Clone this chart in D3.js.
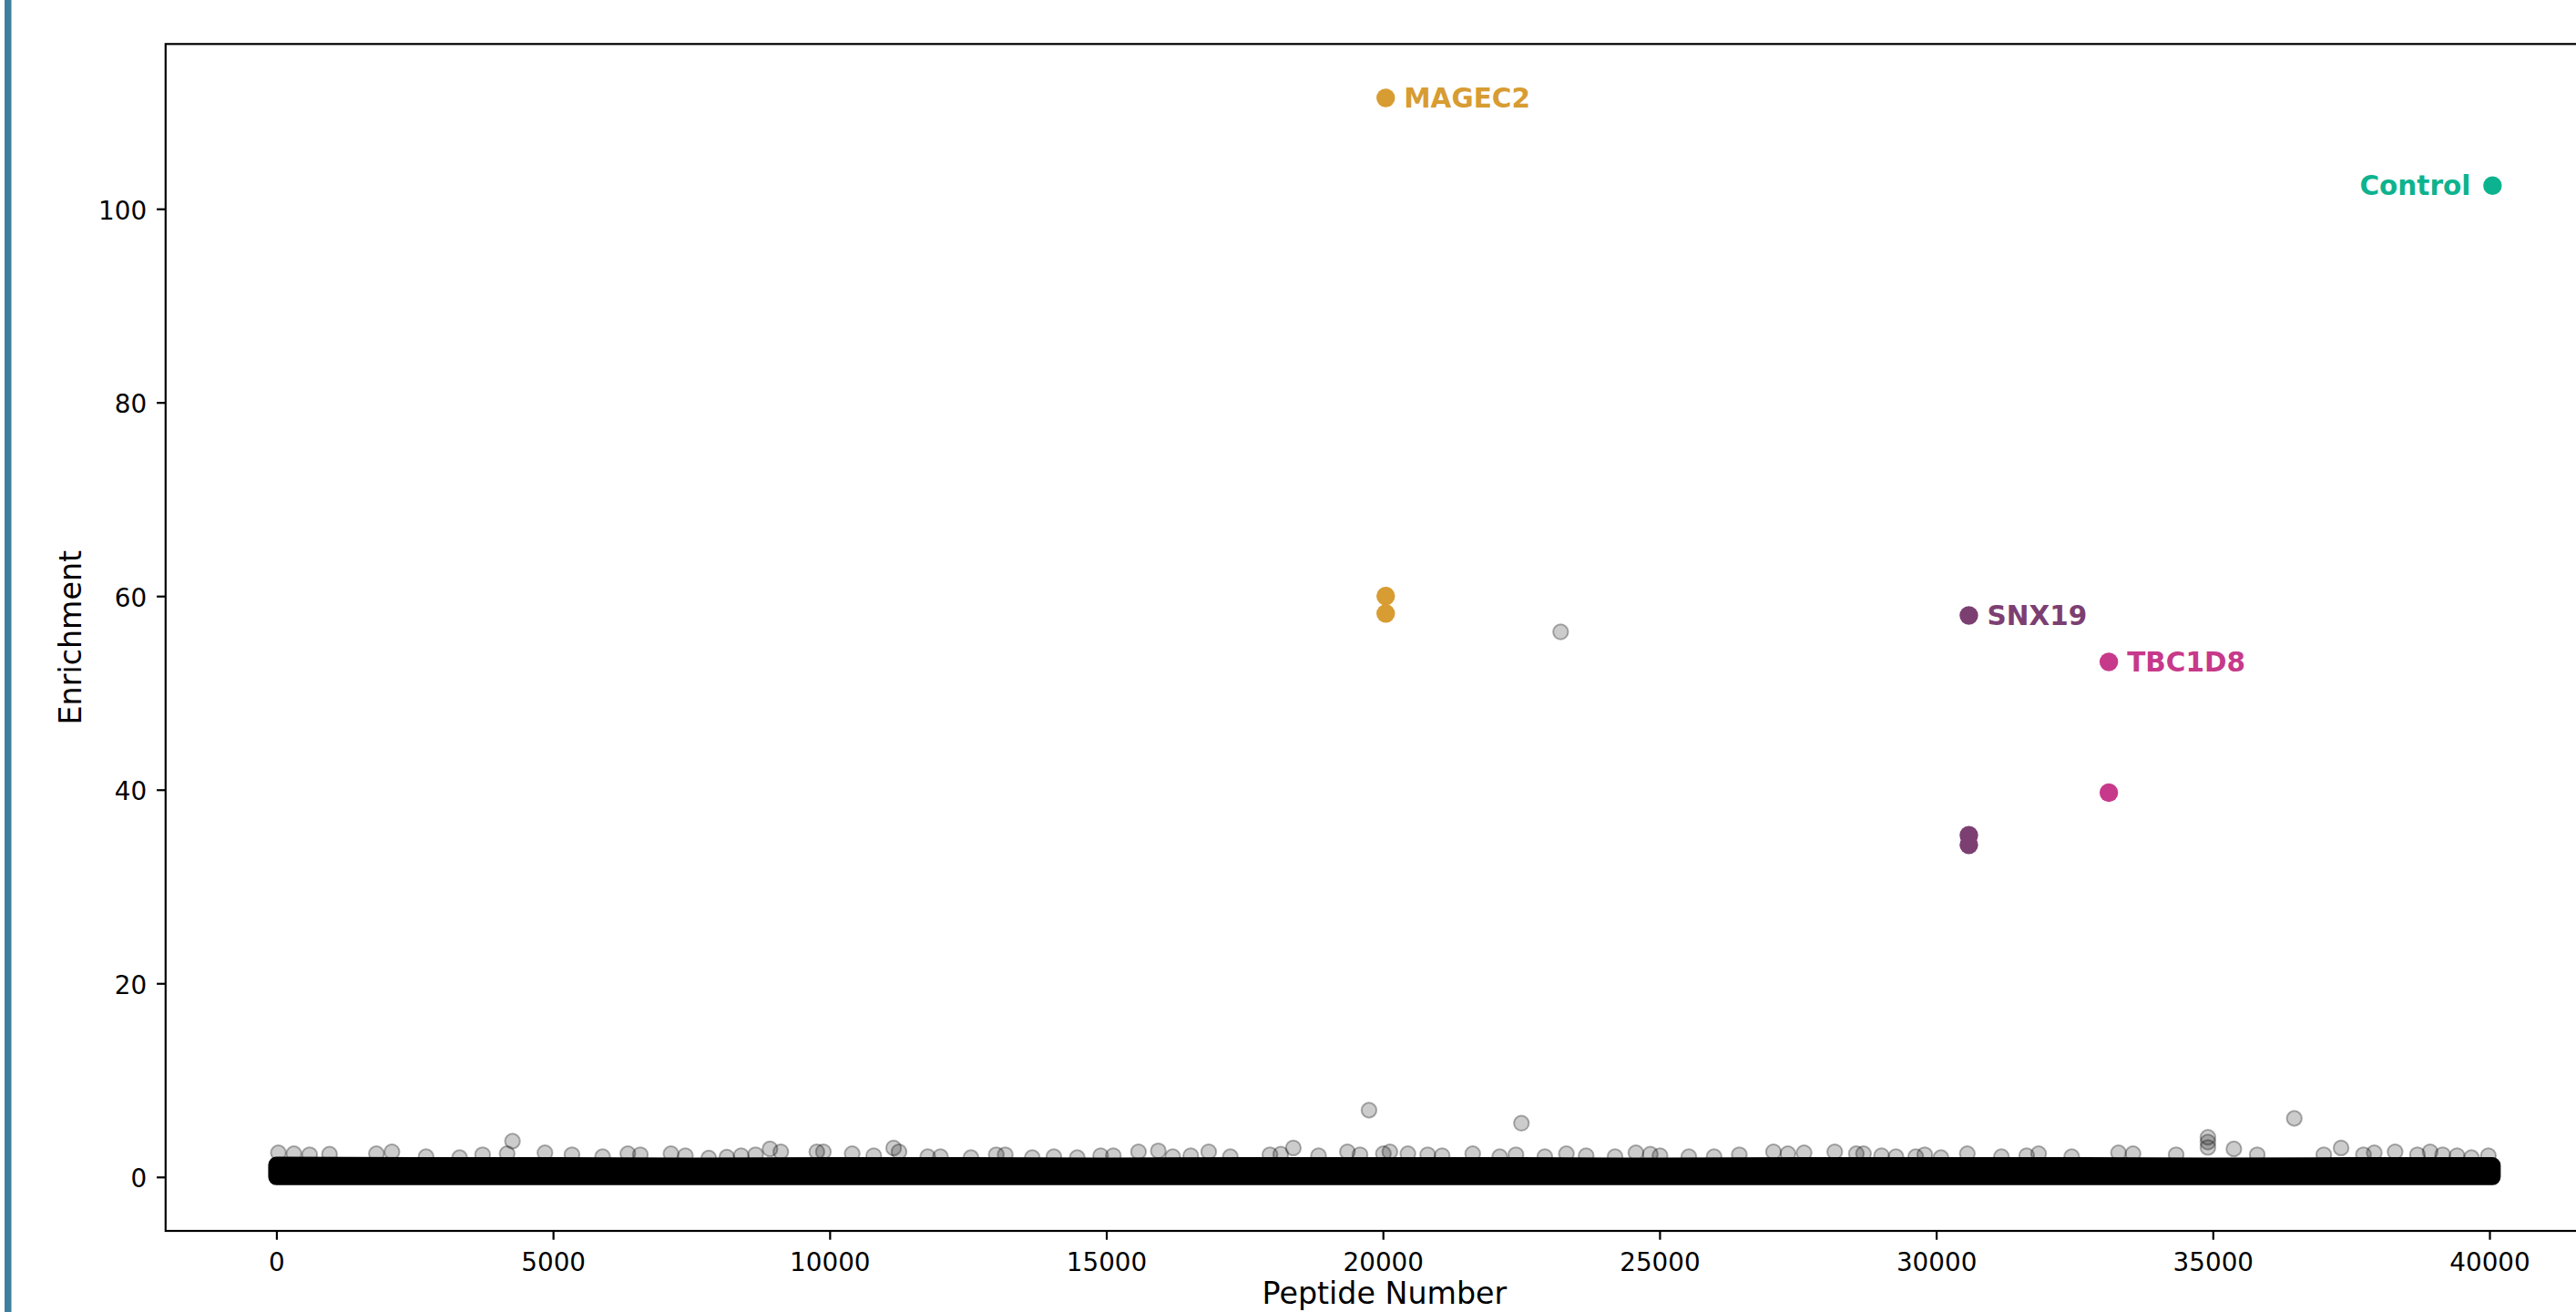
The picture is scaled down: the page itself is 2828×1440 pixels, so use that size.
<!DOCTYPE html>
<html>
<head>
<meta charset="utf-8">
<script src="https://cdn.jsdelivr.net/npm/d3@7"></script>
<style>
  html, body { margin: 0; padding: 0; background: #fff; overflow: hidden; }
  svg { display: block; }
  text { font-family: "DejaVu Sans", sans-serif; }
</style>
</head>
<body>
<div id="chart"></div>
<script>
// dense band of ~40000 peptides: upper edge of the solid black strip (enrichment)
const bandPeptide = [0, 2500, 5000, 7500, 10000, 12500, 15000, 17500, 20000,
    22500, 25000, 27500, 30000, 32500, 35000, 37500, 40055];
const bandTop = [1.25, 1.2, 1.2, 1.15, 1.2, 1.2, 1.15, 1.2, 1.2,
    1.2, 1.15, 1.2, 1.2, 1.2, 1.15, 1.2, 1.2];

// individual background peptides that stand out above the band
const outlierPeptide = [36, 316, 600, 960, 1808, 2088, 2705, 3311, 3727, 4267, 4170, 4854,
    5342, 5896, 6352, 6577, 7132, 7392, 7815, 8141, 8401, 8661, 8921, 9117, 9768,
    9886, 10407, 10797, 11156, 11253, 11773, 12002, 12554, 13011, 13173, 13662, 14052,
    14475, 14898, 15127, 15582, 15940, 16201, 16527, 16851, 17242, 17958, 18153, 18380,
    18836, 19358, 19585, 19748, 20008, 20125, 20451, 20809, 21070, 21623, 22111, 22404,
    22503, 22926, 23212, 23316, 23673, 24195, 24572, 24832, 25008, 25529, 25985, 26441,
    27059, 27320, 27612, 28166, 28556, 28686, 29012, 29272, 29630, 29793, 30086, 30562,
    31179, 31635, 31851, 32449, 33295, 33557, 34337, 34911, 34911, 34911, 35380, 35802,
    36472, 37006, 37318, 37722, 37918, 38294, 38698, 38927, 39154, 39414, 39674, 39980];
const outlierEnrichment = [2.5, 2.4, 2.3, 2.35, 2.4, 2.6, 2.1, 2.0, 2.3, 3.7, 2.4, 2.5,
    2.3, 2.1, 2.4, 2.3, 2.4, 2.2, 1.95, 2.05, 2.2, 2.3, 2.9, 2.6, 2.6,
    2.6, 2.4, 2.2, 3.0, 2.6, 2.1, 2.1, 2.0, 2.3, 2.3, 2.0, 2.1,
    2.0, 2.2, 2.2, 2.6, 2.7, 2.1, 2.2, 2.6, 2.1, 2.3, 2.35, 3.0,
    2.2, 2.6, 2.3, 6.9, 2.4, 2.6, 2.4, 2.3, 2.2, 2.4, 2.1, 2.3,
    5.55, 2.1, 56.3, 2.4, 2.2, 2.1, 2.5, 2.35, 2.2, 2.1, 2.1, 2.3,
    2.6, 2.4, 2.5, 2.6, 2.4, 2.4, 2.2, 2.1, 2.1, 2.3, 2.0, 2.4,
    2.1, 2.2, 2.4, 2.1, 2.5, 2.4, 2.3, 4.1, 3.6, 3.05, 2.9, 2.3,
    6.05, 2.3, 3.0, 2.3, 2.5, 2.6, 2.3, 2.6, 2.3, 2.2, 2.0, 2.2];

// highlighted hits
const hitGene = ["MAGEC2", "MAGEC2", "MAGEC2", "SNX19", "SNX19", "SNX19", "TBC1D8", "TBC1D8", "Control"];
const hitPeptide = [20050, 20050, 20050, 30590, 30590, 30590, 33120, 33120, 40055];
const hitEnrichment = [111.45, 60.0, 58.2, 58.0, 35.3, 34.3, 53.2, 39.7, 102.4];
const labelGene = ["MAGEC2", "SNX19", "TBC1D8", "Control"];

const xTicks = [0, 5000, 10000, 15000, 20000, 25000, 30000, 35000, 40000];
const yTicks = [0, 20, 40, 60, 80, 100];

const geneColor = {
    MAGEC2: "#D79C32",
    SNX19: "#7C3F72",
    TBC1D8: "#C7398A",
    Control: "#0DB38E"
};

const W = 2828, H = 1440;
const plot = { left: 181.8, right: 2858, top: 48.3, bottom: 1351 };

const svg = d3.select("#chart").append("svg")
    .attr("width", W)
    .attr("height", H);

// blue strip on the left edge
svg.append("rect")
    .attr("x", 5).attr("y", 0)
    .attr("width", 7.5).attr("height", H)
    .attr("fill", "#3E7F9D");

// matplotlib style 5% margins
const allX = bandPeptide.concat(outlierPeptide, hitPeptide);
const allY = [0].concat(bandTop, outlierEnrichment, hitEnrichment);
const [x0, x1] = d3.extent(allX);
const [y0, y1] = d3.extent(allY);
const x = d3.scaleLinear()
    .domain([x0 - 0.05 * (x1 - x0), x1 + 0.05 * (x1 - x0)])
    .range([plot.left, plot.right]);
const y = d3.scaleLinear()
    .domain([y0 - 0.05 * (y1 - y0), y1 + 0.05 * (y1 - y0)])
    .range([plot.bottom, plot.top]);

svg.append("clipPath").attr("id", "plot-clip")
    .append("rect")
    .attr("x", plot.left).attr("y", plot.top)
    .attr("width", plot.right - plot.left).attr("height", plot.bottom - plot.top);

const g = svg.append("g").attr("clip-path", "url(#plot-clip)");

// solid band (union of thousands of overlapping markers)
const band = bandPeptide.map((p, i) => ({ p: p, top: bandTop[i] }));
g.append("path")
    .datum(band)
    .attr("d", d3.area()
        .x(d => x(d.p))
        .y0(y(0))
        .y1(d => y(d.top)))
    .attr("fill", "#000")
    .attr("stroke", "#000")
    .attr("stroke-width", 18)
    .attr("stroke-linejoin", "round")
    .attr("stroke-linecap", "round");

// semi transparent background peptides
const outliers = outlierPeptide.map((p, i) => ({ p: p, e: outlierEnrichment[i] }));
g.selectAll(".bg")
    .data(outliers)
    .enter().append("circle")
    .attr("class", "bg")
    .attr("cx", d => x(d.p))
    .attr("cy", d => y(d.e))
    .attr("r", 8.2)
    .attr("fill", "rgba(0,0,0,0.2)")
    .attr("stroke", "rgba(0,0,0,0.3)")
    .attr("stroke-width", 2);

// colored hits
const hits = hitGene.map((gene, i) => ({ gene: gene, p: hitPeptide[i], e: hitEnrichment[i] }));
g.selectAll(".hit")
    .data(hits)
    .enter().append("circle")
    .attr("class", "hit")
    .attr("cx", d => x(d.p))
    .attr("cy", d => y(d.e))
    .attr("r", 10.2)
    .attr("fill", d => geneColor[d.gene]);

// labels next to the top point of each gene
labelGene.forEach(gene => {
    const top = d3.greatest(hits.filter(d => d.gene === gene), d => d.e);
    const isRight = gene === "Control";
    svg.append("text")
        .attr("x", x(top.p) + (isRight ? -24 : 20))
        .attr("y", y(top.e))
        .attr("dy", "0.36em")
        .attr("text-anchor", isRight ? "end" : "start")
        .attr("fill", geneColor[gene])
        .attr("font-size", 29.5)
        .attr("font-weight", "bold")
        .text(gene);
});

// frame
svg.append("rect")
    .attr("x", plot.left).attr("y", plot.top)
    .attr("width", plot.right - plot.left).attr("height", plot.bottom - plot.top)
    .attr("fill", "none")
    .attr("stroke", "#000")
    .attr("stroke-width", 2.2);

// axes
const xAxis = svg.append("g")
    .attr("transform", `translate(0,${plot.bottom})`)
    .call(d3.axisBottom(x).tickValues(xTicks).tickFormat(d3.format("d"))
        .tickSize(9.7).tickPadding(14.5));
const yAxis = svg.append("g")
    .attr("transform", `translate(${plot.left},0)`)
    .call(d3.axisLeft(y).tickValues(yTicks).tickFormat(d3.format("d"))
        .tickSize(9.7).tickPadding(11));

[xAxis, yAxis].forEach(ax => {
    ax.select(".domain").remove();
    ax.selectAll(".tick line").attr("stroke", "#000").attr("stroke-width", 2.2);
    ax.selectAll(".tick text")
        .attr("fill", "#000")
        .attr("font-family", "DejaVu Sans")
        .attr("font-size", 27.8);
});
yAxis.selectAll(".tick text").attr("dy", "0.4em");

// axis titles
svg.append("text")
    .attr("x", (plot.left + plot.right) / 2)
    .attr("y", 1431)
    .attr("text-anchor", "middle")
    .attr("font-size", 33.3)
    .attr("fill", "#000")
    .text("Peptide Number");

svg.append("text")
    .attr("transform", `translate(89,${(plot.top + plot.bottom) / 2}) rotate(-90)`)
    .attr("text-anchor", "middle")
    .attr("font-size", 33.3)
    .attr("fill", "#000")
    .text("Enrichment");
</script>
</body>
</html>
